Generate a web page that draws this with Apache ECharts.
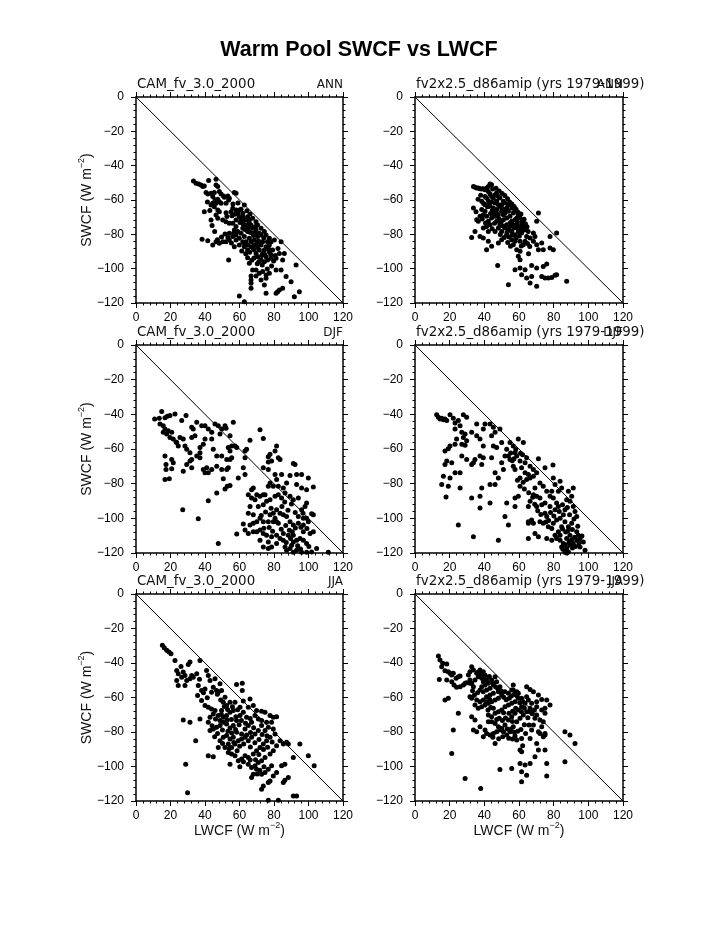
<!DOCTYPE html>
<html><head><meta charset="utf-8">
<script src="https://cdn.jsdelivr.net/npm/echarts@6/dist/echarts.min.js"></script>
<style>html,body{margin:0;padding:0;background:#fff}#c{width:723px;height:935px}</style>
</head><body><div id="c"></div>
<script>
// ---- tick labels ----
const xTicks = [0, 20, 40, 60, 80, 100, 120];
const yTicks = [-120, -100, -80, -60, -40, -20, 0];
// ---- reference line SWCF = -LWCF ----
const diagLWCF = [0, 120];
const diagSWCF = [0, -120];
// ---- panel titles ----
const caseNames = ['CAM_fv_3.0_2000', 'fv2x2.5_d86amip (yrs 1979-1999)'];
const seasons = ['ANN', 'DJF', 'JJA'];
// ---- data: [LWCF, SWCF] pairs, W m-2 ----
const camANN = [[33.3,-48.9],[34.8,-50.3],[36.3,-50.7],[37.7,-51.2],[38.7,-52.2],[39.6,-51.8],[42.1,-48.7],[46.4,-47.9],[46.4,-51.2],[47.4,-52.2],[45.4,-55.7],[43.5,-56.1],[41.6,-56.5],[40.6,-55.7],[48.3,-55.1],[49.3,-56.5],[51.2,-58.4],[53.2,-57.6],[54.1,-59],[57,-55.7],[58,-56.1],[44.5,-58],[47.4,-59.6],[48.3,-61],[46.4,-61.9],[44.5,-61.9],[45.4,-63.9],[43.5,-62.9],[49.3,-61.9],[52.2,-61.9],[53.7,-60],[39.6,-66.8],[47.4,-65.8],[48.3,-66.8],[46.4,-68.7],[47.4,-70.7],[43.5,-71.6],[50.3,-71.6],[52.2,-67.4],[55.1,-66.8],[56.1,-64.8],[58,-65.8],[59,-67.7],[60.9,-65.4],[62.8,-62.9],[61.9,-67.7],[59.9,-69.7],[58,-71.6],[52.2,-72.6],[54.1,-73.6],[56.1,-73.6],[58,-75.5],[60.9,-71.6],[62.8,-71.6],[64.7,-69.7],[65.7,-71.6],[67.6,-70.7],[69.6,-72.6],[66.7,-74.5],[63.8,-74.5],[61.9,-76.5],[59,-78.4],[57,-77.5],[54.1,-79.4],[58,-80.4],[60.9,-79.4],[62.8,-81.3],[64.7,-78.4],[67.6,-76.5],[70.5,-74.5],[72.5,-76.5],[74.4,-78.4],[75.4,-80.4],[77.3,-82.3],[78.3,-84.3],[80.2,-83.3],[72.5,-80.4],[70.5,-81.3],[68.6,-83.3],[65.7,-82.3],[63.8,-84.3],[61.9,-84.3],[59.9,-82.3],[58,-83.3],[56.1,-81.3],[54.1,-83.3],[52.2,-84.3],[50.3,-84.3],[48.3,-85.2],[46.4,-84.3],[44.5,-86.2],[41.6,-83.7],[38.3,-82.9],[53.7,-94.9],[62.8,-87.2],[64.7,-89.1],[66.7,-87.2],[68.6,-89.1],[69.6,-91.1],[71.5,-89.1],[73.4,-91.1],[75.4,-93],[77.3,-90.1],[79.2,-89.1],[70.5,-93],[72.5,-94.9],[74.4,-95.9],[76.3,-94.9],[78.3,-94],[81.2,-94],[83.1,-91.1],[86,-91.1],[84.1,-84.3],[85,-94.9],[92.8,-97.8],[65.7,-96.9],[67.6,-100.8],[69.6,-100.8],[71.5,-102.7],[73.4,-101.7],[75.4,-103.7],[77.3,-102.7],[75.4,-105.6],[72.5,-106.6],[69.6,-104.3],[66.7,-104.3],[66.7,-106.6],[81.2,-100.8],[84.1,-100.8],[87,-104.6],[89.9,-107.6],[85,-111.4],[83.1,-112.4],[82.1,-113.4],[81.2,-114.3],[75.4,-114.3],[66.7,-111.4],[59.9,-115.9],[62.8,-119.2],[91.8,-116.3],[94.7,-113.4],[74.4,-109.5],[66.7,-108.5],[59.9,-65.8],[61.9,-69.7],[63.8,-71.6],[65.7,-73.6],[67.6,-79.4],[69.6,-77.5],[71.5,-79.4],[73.4,-84.3],[75.4,-87.2],[77.3,-86.2],[74.4,-89.1],[72.5,-86.2],[70.5,-87.2],[68.6,-86.2],[66.7,-84.3],[64.7,-86.2],[62.8,-85.2],[59.9,-86.2],[57,-87.2],
[55.6,-69.2],[57.4,-68.3],[60.3,-73.1],[62.1,-74.0],[63.2,-77.2],[65.2,-76.1],[66.3,-78.9],[68.1,-80.7],[69.3,-79.1],[71.0,-83.9],[70.1,-85.6],[67.9,-88.2],[65.9,-90.4],[63.6,-91.3],[61.3,-89.7],[72.9,-92.4],[74.7,-91.8],[76.8,-88.4],[78.1,-91.7],[79.8,-95.6],[80.7,-92.3],[73.2,-97.8],[71.2,-95.9],[68.4,-93.8],[56.7,-79.2],[55.3,-85.1],[53.3,-81.9],[51.6,-79.8],[49.6,-81.6],[47.2,-83.1],[45.6,-78.4],[44.1,-74.9],[42.8,-66.1],[41.4,-61.2],[45.8,-59.8],[50.7,-57.7],[52.7,-69.6],[56.2,-62.3],[59.1,-61.8],[64.3,-66.3],[66.1,-68.1],[69.3,-75.4],[74.1,-82.1],[76.2,-84.3],[82.3,-88.2],[64.7,-93.6],[67.1,-95.1],[70.3,-97.1],[78.6,-98.4],[76.1,-100.2]];
const fvANN = [[33.7,-52.1],[34.6,-52.6],[35.6,-53],[36.5,-53],[37.5,-53.4],[38.5,-53.6],[39.4,-53.4],[40.4,-54],[41.3,-53],[42.3,-52.1],[43.3,-50.7],[44.2,-51.1],[42.3,-55],[43.3,-56.5],[44.2,-57.9],[45.2,-58.9],[46.2,-56.9],[47.1,-55.9],[48.1,-57.9],[49,-58.9],[47.1,-60.8],[46.2,-61.8],[44.2,-61.2],[42.3,-60.4],[41.3,-58.9],[40.4,-57.9],[43.3,-63.7],[45.2,-64.7],[47.1,-65.6],[49,-63.7],[50,-62.7],[51,-60.8],[51.9,-61.8],[52.9,-64.7],[53.9,-66.6],[51.9,-67.6],[50,-66.6],[48.1,-68.6],[46.2,-69.5],[44.2,-70.5],[41.3,-69.5],[39.4,-68.6],[33.7,-64.7],[35.6,-71.5],[36.5,-72.4],[37.5,-69.5],[38.5,-65.6],[40.4,-66.6],[42.3,-72.4],[43.3,-74.4],[47.1,-72.4],[49,-74.4],[51,-71.5],[52.9,-70.5],[54.8,-69.5],[55.8,-72.4],[57.7,-71.5],[58.7,-74.4],[59.6,-68.6],[56.7,-67.6],[54.8,-75.4],[53.9,-77.3],[51.9,-76.3],[50,-78.3],[48.1,-76.3],[46.2,-78.3],[42.3,-78.3],[41.3,-75.4],[39.4,-76.3],[34.6,-78.3],[32.7,-81.8],[37.5,-81.2],[39.4,-82.2],[42.3,-84.1],[44.2,-87],[41.3,-89],[48.1,-85.1],[50,-83.1],[52.9,-80.2],[55.8,-78.3],[57.7,-80.2],[59.6,-78.3],[60.6,-76.3],[61.5,-79.2],[62.5,-74.4],[63.5,-77.3],[64.4,-81.2],[63.5,-84.1],[60.6,-84.1],[57.7,-84.1],[55.8,-83.1],[56.7,-86],[58.7,-89],[60.6,-89.9],[62.5,-86],[66.4,-82.2],[68.3,-84.1],[69.2,-81.2],[70.2,-72.4],[71.2,-67.6],[68.3,-79.2],[70.2,-86],[71.2,-89],[74,-89],[77.9,-88],[79.8,-89],[77.9,-81.2],[81.7,-79.2],[73.1,-85.1],[59.6,-92.8],[60.6,-94.8],[47.7,-98.1],[57.7,-100.6],[60.6,-99.6],[63.5,-100.6],[61.5,-103.5],[64.4,-105.5],[67.3,-104.5],[67.3,-98.1],[70.2,-99.6],[74,-98.7],[76,-97.3],[73.1,-104.5],[75,-105.5],[76.9,-105.5],[78.9,-105.1],[80.8,-103.9],[81.7,-103.5],[87.5,-107.4],[53.9,-109.3],[70.2,-110.3],[66.4,-108.4],[48.1,-62.7],[50,-64.7],[51.9,-65.6],[53.9,-62.7],[55.8,-64.7],[57.7,-66.6],[58.7,-70.5],[56.7,-74.4],[59.6,-76.3],[61.5,-74.4],[54.8,-73.4],[52.9,-74.4],[51,-68.6],[45.2,-66.6],[40.4,-62.7],[38.5,-60.8],
[44.8,-53.6],[46.7,-53.1],[48.6,-54.8],[50.3,-56.2],[51.8,-57.4],[53.4,-59.3],[54.6,-61.2],[55.9,-62.3],[57.2,-63.8],[58.3,-65.4],[59.4,-67.1],[60.5,-70.2],[61.8,-72.3],[62.9,-71.2],[63.7,-73.8],[64.6,-75.6],[65.3,-78.4],[62.1,-77.8],[60.2,-80.9],[58.3,-82.1],[56.1,-80.4],[54.2,-81.6],[53.1,-78.9],[50.8,-75.1],[49.7,-72.6],[48.4,-70.9],[47.3,-67.8],[45.8,-68.4],[44.6,-66.2],[43.6,-67.9],[42.8,-62.6],[41.8,-63.9],[39.6,-62.1],[37.9,-57.3],[36.4,-59.6],[35.2,-66.8],[38.8,-71.1],[40.7,-73.4],[44.5,-76.8],[45.9,-73.6],[49.2,-80.1],[51.5,-81.9],[53.5,-84.7],[55.1,-86.9],[57.2,-76.3],[59.1,-72.8],[61.1,-68.2],[62.8,-76.2],[64.9,-85.3],[66.2,-87.1],[65.5,-91.3],[61.3,-86.8]];
const camDJF = [[10.8,-42.7],[13.5,-42.3],[14.9,-38.4],[16.8,-41.9],[18.2,-41.1],[19.7,-40.7],[22.6,-39.8],[26.5,-43.6],[29,-40.7],[13.9,-45.6],[15.8,-46.6],[16.8,-48.5],[15.8,-50.4],[17.8,-51.4],[18.7,-49.5],[20.7,-50.4],[19.7,-53.3],[21.6,-54.3],[23.2,-55.9],[24.5,-58.2],[23.6,-56.3],[25.5,-53.3],[27.4,-54.3],[28.4,-58.2],[29.4,-60.1],[31.3,-62.1],[32.3,-53.3],[34.2,-52.4],[33.2,-48.5],[32.3,-47.5],[35.2,-44.6],[38.1,-46.6],[40,-46.6],[41.9,-48.5],[43.9,-50.4],[45.8,-45.6],[47.7,-46.6],[48.7,-51.4],[49.7,-48.5],[51.6,-46.6],[56.4,-44.6],[52.2,-48.1],[54.5,-52.4],[55.5,-58.2],[57.4,-58.2],[58.4,-59.2],[53.5,-59.2],[54.5,-61.1],[55.5,-65],[54.5,-66],[52.6,-66],[49.7,-64],[46.8,-64],[44.8,-60.1],[43.9,-54.3],[40,-54.3],[39,-57.2],[37.1,-59.2],[37.1,-62.1],[37.1,-65],[35.2,-64],[32.3,-66],[31.3,-66.9],[29.4,-68.9],[32.3,-70.8],[27.4,-72.8],[21.6,-67.9],[20.7,-66],[16.8,-64],[17.4,-68.9],[17.4,-71.8],[20.7,-71.4],[16.8,-77.6],[19.3,-77.2],[27.1,-95.1],[36.1,-100.3],[39,-71.8],[41,-70.8],[40,-73.7],[41.9,-73.7],[43.9,-71.8],[46.8,-69.9],[49.7,-71.8],[52.6,-71.8],[53.5,-70.8],[50.6,-77.2],[52.9,-81.5],[54.5,-81.1],[51.6,-83.1],[46.8,-85.4],[41.9,-89.9],[47.7,-114.5],[59.3,-76.7],[62.2,-70.8],[63.2,-74.7],[63.2,-61.1],[64.1,-60.1],[63.2,-65],[66.1,-54.9],[71.9,-48.9],[73.8,-53.9],[77.7,-63.1],[76.7,-64.4],[76.7,-67.5],[78.6,-66.9],[81.5,-58.2],[80.6,-61.1],[82.5,-65],[83.5,-66],[73.8,-70.8],[76.7,-71.8],[80.6,-74.7],[81.5,-77.6],[84.4,-74.7],[89.3,-75.3],[93.1,-74.7],[96,-74.7],[99.9,-76.7],[102.8,-81.9],[98.9,-83.5],[96,-82.5],[93.1,-80.5],[92.2,-68.9],[91.2,-68.3],[87.3,-79.6],[85.4,-82.5],[82.5,-81.5],[79.6,-81.5],[77.7,-79.6],[76.7,-81.5],[74.8,-86.4],[73.8,-86.4],[71.9,-87.3],[70,-86.4],[67,-83.5],[68,-82.5],[65.1,-86.4],[67,-88.3],[69,-89.3],[66.1,-93.2],[65.1,-97],[68,-98],[70.9,-93.2],[73.8,-92.2],[75.7,-90.2],[77.7,-89.3],[80.6,-87.3],[82.5,-86.4],[84.4,-88.3],[86.4,-85.4],[89.3,-87.3],[91.2,-89.3],[94.1,-88.3],[98.9,-91.2],[98,-93.2],[96,-95.1],[94.1,-99],[97,-100],[98.9,-100],[101.8,-97.4],[102.8,-98],[99.9,-101.9],[97,-103.8],[94.1,-102.9],[91.2,-103.8],[89.3,-101.9],[87.3,-99],[85.4,-98],[83.5,-97],[81.5,-95.1],[79.6,-97],[77.7,-98],[80.6,-100],[81.5,-101.9],[82.5,-102.9],[79.6,-101.9],[76.7,-101.9],[73.8,-101.9],[71.9,-100],[70,-101.9],[68,-102.9],[66.1,-103.8],[62.2,-103.3],[63.2,-106.8],[65.1,-108.7],[68,-107.7],[70,-107.7],[71.9,-106.8],[58.4,-109.1],[73.8,-108.7],[75.7,-109.7],[78.6,-110.6],[81.5,-109.7],[83.5,-111.6],[85.4,-112.6],[86.4,-116.5],[87.3,-118.4],[89.3,-117.4],[90.2,-115.5],[91.2,-113.6],[93.1,-112.6],[95.1,-111.6],[97,-112.6],[98.9,-114.5],[100.9,-108.7],[102.8,-107.7],[97,-107.7],[91.2,-109.7],[88.3,-109.7],[85.4,-108.7],[76.7,-113.6],[73.8,-116.5],[76.7,-117.4],[78.6,-116.5],[81.5,-114.5],[96,-119.6],[98.9,-119.6],[101.8,-119.4],[104.7,-117.4],[111.5,-119.6],[93.1,-118.4],[91.2,-119.6],[71.9,-112.6],
[84.2,-106.3],[86.8,-104.1],[88.9,-106.9],[90.6,-107.8],[92.4,-105.6],[95.6,-105.2],[99.1,-105.9],[87.1,-113.9],[89.6,-111.7],[93.7,-115.8],[95.4,-117.7],[100.2,-116.3],[79.2,-107.4],[77.2,-105.3],[74.1,-105.7],[72.6,-98.3],[75.1,-96.3],[78.3,-94.2],[84.6,-93.2],[88.1,-95.4],[92.3,-96.7],[96.8,-97.1],[90.1,-91.7],[86.2,-90.6]];
const fvDJF = [[12.5,-40.3],[13.5,-41.7],[14.4,-42.7],[15.4,-42.3],[16.4,-43.1],[17.3,-42.7],[18.3,-43.6],[20.2,-40.3],[22.1,-42.3],[23.1,-45],[23.1,-48.5],[25,-43.6],[27.9,-40.3],[29.8,-41.7],[26,-46.6],[27,-50.4],[27.9,-53.3],[28.9,-51.4],[27,-57.2],[28.9,-57.8],[29.8,-55.3],[24,-54.3],[23.1,-57.2],[20.2,-58.2],[19.2,-59.8],[17.3,-61.1],[18.3,-66.9],[17.3,-68.9],[21.2,-67.9],[16.4,-75.7],[15.4,-80.5],[19.2,-81.5],[17.9,-87.7],[23.1,-73.7],[26,-73.7],[26,-82.5],[25,-103.8],[20.2,-76.7],[27,-64],[29.8,-66],[32.7,-68.9],[33.7,-67.9],[34.6,-66],[37.5,-64],[38.5,-68.9],[39.4,-65],[39.4,-58.2],[37.5,-54.3],[35.6,-52.4],[32.7,-50.4],[35.6,-45.6],[39.4,-48.5],[40.4,-45.6],[43.3,-45.6],[45.2,-47.5],[44.2,-52.4],[46.2,-50.4],[49,-48.5],[50,-56.3],[47.1,-59.2],[45.2,-58.2],[44.2,-65],[46.2,-73.7],[48.1,-76.7],[46.2,-80.5],[43.3,-80.5],[38.5,-82.5],[37.5,-87.3],[43.3,-91.2],[37.5,-94.1],[32.7,-88.3],[33.7,-110.6],[48.1,-112.6],[51,-71.8],[50,-67.9],[51.9,-64],[53.9,-64],[54.8,-66],[52.9,-60.1],[54.8,-56.3],[56.7,-58.2],[57.7,-62.1],[58.7,-64],[59.6,-54.3],[62.5,-56.3],[64.4,-65],[63.5,-67.9],[56.7,-69.9],[57.7,-71.8],[60.6,-66.9],[61.5,-70.8],[63.5,-73.7],[65.4,-74.7],[66.4,-69.9],[68.3,-71.8],[66.4,-76.7],[64.4,-77.6],[60.6,-76.7],[60.6,-81.5],[59.6,-87.3],[57.7,-88.3],[57.7,-93.2],[52.9,-91.2],[51.9,-99],[53.9,-103.8],[65.4,-93.2],[66.4,-90.2],[68.3,-86.4],[69.2,-82.5],[70.2,-87.3],[72.1,-88.3],[73.1,-92.2],[70.2,-93.2],[67.3,-100.9],[65.4,-102.9],[68.3,-102.9],[72.1,-101.9],[75,-97],[75,-91.2],[76,-84.4],[78.9,-84.4],[80.8,-80.5],[79.8,-76.7],[75,-70.8],[71.2,-65.6],[70.2,-73.7],[68.3,-75.7],[72.1,-79.6],[74,-81.5],[77.9,-87.3],[79.8,-88.3],[81.7,-91.2],[82.7,-84.4],[83.7,-78.6],[84.6,-82.5],[82.7,-93.2],[80.8,-95.1],[77.9,-93.2],[76,-99],[74,-102.9],[76.9,-104.8],[78.9,-105.8],[79.8,-102.9],[81.7,-100.9],[83.7,-100],[85.6,-98],[86.5,-95.1],[87.5,-89.3],[90.4,-87.3],[91.3,-93.2],[92.3,-96.1],[93.3,-99],[90.4,-102.9],[88.5,-104.8],[86.5,-101.9],[84.6,-104.8],[82.7,-107.7],[80.8,-109.7],[81.7,-111.6],[83.7,-112.6],[85.6,-114.5],[87.5,-117.4],[88.5,-119.4],[89.4,-115.5],[91.3,-114.5],[93.3,-112.6],[94.2,-109.7],[95.2,-111.6],[97.1,-113.6],[98.1,-118.4],[95.2,-116.5],[93.3,-107.7],[89.4,-109.7],[87.5,-111.6],[83.7,-109.7],[84.6,-116.5],[86.5,-119.5],[65.4,-111.6],[65.4,-101.9],[71.2,-110.6],[69.2,-108.7],[76,-111.6],[78.9,-112.6],[88.5,-84.4],[89.4,-90.2],[91.3,-82.5],[79.6,-69.3],
[85.1,-106.2],[86.9,-107.9],[88.2,-107.1],[90.8,-106.4],[92.1,-110.9],[90.3,-112.3],[88.9,-113.8],[86.7,-115.3],[85.3,-117.8],[87.6,-120],[90.8,-117.1],[92.6,-116.2],[94.6,-114.3],[96.3,-110.2],[93.9,-104.6],[91.7,-100.4],[89.2,-97.9],[87.9,-93.7],[85.1,-92.1],[83.2,-96.1],[80.1,-98.6],[78.2,-96.7],[77.1,-101.3],[75.5,-102.1],[72.6,-97.8],[70.8,-95.6],[69.1,-91.9],[67.9,-87.9],[65.6,-85.2],[63.1,-83.1],[62.4,-79.2],[59.1,-78.1],[56.1,-66.8],[55.2,-62.3],[58.1,-60.3],[60.9,-62.4],[62.1,-63.3],[57.1,-65.6]];
const camJJA = [[15.3,-29.7],[16.4,-31.1],[17.8,-32.6],[19.1,-33.6],[20.3,-34.6],[22.6,-38.5],[26.1,-42],[30.3,-40.8],[31.3,-39.4],[37.1,-38.5],[23.6,-44.3],[24.5,-46.2],[27.4,-45.2],[28.4,-47.2],[26.5,-48.2],[29.4,-50.1],[32.3,-47.2],[35.2,-46.2],[23.6,-50.1],[24.5,-53],[28.4,-53],[31.3,-49.1],[33.2,-48.2],[40.9,-44.3],[41.9,-47.2],[42.9,-50.1],[45.8,-49.1],[44.8,-54],[46.7,-55.9],[48.7,-52],[47.7,-56.9],[49.6,-55.9],[51.6,-59.8],[50.6,-62.7],[43.8,-56.9],[40,-55],[38,-55.9],[36.1,-53],[35.7,-58.8],[38,-61.8],[40,-64.7],[41.9,-65.6],[43.8,-66.6],[45.8,-67.6],[49.6,-67.6],[52.5,-64.7],[54.5,-62.7],[57.4,-62.7],[58.3,-52.4],[61.6,-51.7],[61.6,-55.9],[62.2,-62.1],[60.3,-65.6],[56.4,-67.6],[54.5,-68.6],[52.5,-70.5],[50.6,-71.5],[48.7,-73.4],[47.7,-70.5],[44.8,-69.5],[42.9,-71.5],[41.9,-74.4],[42.9,-79.2],[44.8,-78.3],[46.7,-77.3],[48.7,-76.3],[50.6,-74.4],[52.5,-75.4],[54.5,-77.7],[56.4,-76.3],[58.3,-73.4],[60.3,-70.5],[62.2,-68.6],[64.1,-71.5],[65.1,-65.6],[66.1,-60.8],[68,-64.7],[69.9,-67.6],[72.8,-68],[74.8,-68.6],[77.7,-70.5],[79.6,-71.5],[81.5,-71.1],[78.6,-74.4],[75.7,-74.4],[72.8,-73.4],[70.9,-72.4],[69,-70.5],[67,-74.4],[65.1,-76.3],[63.2,-78.3],[61.2,-81.2],[58.3,-80.2],[56.4,-83.1],[54.5,-84.1],[52.5,-82.1],[50.6,-83.1],[48.7,-85.1],[47.7,-89],[51.6,-89],[53.5,-87],[55.4,-89],[57.4,-87],[59.3,-85.1],[61.2,-84.1],[63.2,-83.1],[65.1,-85.1],[67,-83.1],[69,-81.2],[70.9,-79.2],[72.8,-76.3],[74.8,-79.2],[76.7,-77.3],[79.6,-78.3],[80.6,-81.2],[77.7,-83.1],[75.7,-85.1],[73.8,-87],[71.9,-89],[69.9,-90.9],[68,-92.8],[65.1,-94.8],[63.2,-93.8],[61.2,-95.7],[59.3,-96.7],[57.4,-93.8],[55.4,-92.8],[53.5,-91.9],[65.1,-98.7],[67,-100.6],[69,-99.6],[70.9,-97.7],[72.8,-96.7],[74.8,-94.8],[77.7,-92.8],[79.6,-90.9],[81.5,-88],[83.5,-85.1],[85.4,-87],[87.3,-86],[88.3,-87],[78.6,-99.6],[76.7,-101.6],[74.8,-103.5],[72.8,-104.5],[69.9,-101.6],[68,-104.5],[67,-106.4],[73.8,-111.3],[72.8,-113.2],[79.6,-105.5],[81.5,-103.5],[84.4,-99.6],[86.3,-98.7],[77.7,-108.4],[76.7,-109.3],[88.3,-106.4],[86.3,-108],[85.4,-109.3],[91.2,-117.1],[93.1,-117.1],[91.2,-94.8],[95,-87],[99.9,-93.8],[103.3,-99.5],[54.5,-98.7],[44.8,-94.4],[41.9,-93.8],[34.6,-85.1],[27.4,-73],[31.3,-74.4],[37.1,-72.4],[28.8,-98.7],[29.9,-115.2],[76.7,-119.6],[82.5,-119.6],
[47.2,-58.1],[49.1,-61.4],[51.2,-65.2],[53.1,-66.9],[55.9,-65.3],[58.9,-67.1],[59.8,-75.8],[57.7,-78.6],[55.5,-80.6],[53.3,-79.6],[50.1,-78.8],[47.3,-80.9],[45.6,-82.7],[44.1,-76.4],[46.1,-72.4],[49.5,-69.9],[52.8,-73.1],[55.3,-72.8],[57.9,-71.2],[61.1,-73.4],[63.5,-74.9],[66.2,-72.2],[68.2,-77.6],[66.4,-80.3],[64.1,-81.8],[62.4,-86.9],[60.1,-88.2],[58.6,-90.8],[56.7,-86.1],[54.1,-89.6],[50.2,-86.7],[66.3,-88.7],[68.9,-86.2],[71.3,-84.3],[73.1,-81.4],[75.9,-82.2],[78.9,-85.8],[76.3,-88.9],[73.9,-90.2],[71.2,-93.1],[69.3,-96.1],[66.2,-96.3],[62.3,-97.3],[60.2,-100.1],[71.8,-102.2],[74.2,-100.1],[70.3,-104.4],[39.1,-57.2],[41.3,-60.2],[36.8,-49.4]];
const fvJJA = [[13.5,-36],[14.4,-38.3],[16,-40.2],[18.3,-40.6],[15.4,-42.2],[17.3,-44.5],[19.2,-45.1],[20.2,-46],[21.2,-47],[22.1,-46],[23.7,-48.9],[25,-48],[26,-47.6],[14,-49.5],[18.3,-49.9],[21.2,-50.9],[22.5,-52.8],[24,-54.1],[26,-53.8],[27.9,-52.8],[28.9,-51.8],[29.8,-51.4],[31.7,-51.8],[30.8,-47],[32.7,-42.2],[31.7,-45.1],[33.7,-44.1],[35.6,-46],[36.5,-48],[34.6,-49.9],[32.7,-51.8],[33.7,-53.8],[37.5,-44.1],[39.4,-45.1],[40.4,-47],[38.5,-48.9],[39.4,-50.9],[41.3,-49.9],[42.3,-51.8],[40.4,-52.8],[38.5,-53.8],[37.5,-55.7],[39.4,-56.7],[41.3,-55.7],[43.3,-54.7],[45.2,-52.8],[44.2,-49.9],[46.2,-48],[47.1,-50.9],[49,-53.8],[48.1,-56.7],[45.2,-57.6],[43.3,-58.6],[41.3,-59.5],[39.4,-61.5],[37.5,-62.4],[35.6,-61.5],[32.7,-60.5],[31.7,-59.5],[17.3,-61.5],[19.2,-60.5],[34.6,-64.4],[36.5,-66.3],[38.5,-65.3],[40.4,-64.4],[42.3,-63.4],[44.2,-62.4],[46.2,-61.5],[48.1,-60.5],[50,-58.6],[51.9,-56.7],[53.9,-57.6],[55.8,-55.7],[56.7,-52.8],[58.7,-56.7],[59.6,-60.5],[57.7,-62.4],[55.8,-63.4],[53.9,-64.4],[51.9,-65.3],[50,-67.3],[48.1,-68.2],[46.2,-69.2],[44.2,-71.1],[42.3,-70.2],[44.2,-74],[46.2,-75],[48.1,-76.9],[50,-77.9],[51.9,-76],[53.9,-73.1],[55.8,-71.1],[57.7,-69.2],[59.6,-67.3],[61.5,-65.3],[63.5,-63.4],[61.5,-60.5],[64.4,-59.5],[65.4,-61.5],[67.3,-63.4],[66.4,-66.3],[64.4,-68.2],[62.5,-70.2],[60.6,-72.1],[58.7,-74],[56.7,-76.9],[54.8,-79.8],[52.9,-81.8],[51,-79.8],[49,-78.9],[47.1,-79.8],[45.2,-80.8],[43.3,-81.8],[41.3,-80.8],[40.4,-78.9],[39.4,-82.7],[35.6,-79.8],[33.7,-78.9],[37.5,-76.9],[34.6,-73.1],[32.7,-71.1],[25,-69.2],[22.1,-78.9],[21.2,-92.4],[46.2,-86.6],[42.3,-74],[57.7,-82.3],[58.7,-84.7],[61.5,-83.7],[60.6,-90.5],[61.5,-91.4],[66.4,-83.7],[67.3,-78.9],[68.3,-76],[69.2,-72.1],[70.2,-70.2],[72.1,-73.1],[73.1,-67.3],[75,-66.3],[77.9,-64.4],[76,-61.5],[73.1,-61.1],[70.2,-62.4],[68.3,-56.7],[66.4,-55.3],[64.4,-53.8],[71.2,-58.6],[59.6,-57.6],[56.7,-55.7],[66.4,-68.2],[70.2,-65.3],[75,-69.2],[74,-74],[73.1,-76.9],[71.2,-79.8],[72.1,-80.8],[75,-81.8],[74,-82.7],[70.2,-86.6],[71.2,-90.5],[69.2,-94.3],[66.4,-98.2],[63.5,-99.2],[60.6,-98.2],[61.5,-103],[55.8,-101.1],[49,-101.7],[64.4,-105],[61.5,-108.8],[76,-98.2],[75,-90.5],[75,-80.8],[86.5,-79.8],[89.4,-81.8],[92.3,-86.6],[86.5,-97.2],[76,-105.5],[28.9,-106.9],[37.9,-112.7],[31.7,-49.9],
[36.3,-45.3],[38.1,-46.7],[40.1,-49.2],[42.9,-47.8],[44.8,-51.3],[46.6,-53.9],[47.9,-55.1],[49.8,-56.2],[51.2,-59.9],[52.6,-61.3],[54.4,-60.4],[55.6,-59.1],[57.2,-58.3],[58.9,-59.2],[60.4,-63.1],[62.1,-62.2],[63.1,-66.1],[61.4,-68.2],[58.1,-66.2],[56.3,-67.9],[54.2,-69.1],[52.2,-71.9],[50.4,-73.4],[48.6,-72.1],[47.1,-72.8],[45.2,-66.3],[43.7,-65.8],[42.1,-67.2],[41.2,-62.4],[43.1,-61.1],[36.1,-57.3],[34.2,-58.7],[33.2,-56.1],[53.2,-78.2],[55.4,-78.3],[57.3,-80.1],[59.2,-79.6],[61.1,-78.6],[63.1,-75.8],[65.1,-71.8],[67.6,-69.4],[68.9,-67.2],[65.8,-75.9],[63.8,-80.9],[56.3,-84.1],[54.1,-83.6],[50.6,-82.7],[48.3,-83.9],[44.9,-83.1],[62.1,-87.9],[56.2,-73.9],[51.1,-68.9]];

const panelData = [camANN, fvANN, camDJF, fvDJF, camJJA, fvJJA];

// ---- layout (pixels) ----
const colLeft = [136, 415], colWidth = [207, 208];
const rowTop = [97, 345, 594], rowHeight = [206, 208, 207];

const chart = echarts.init(document.getElementById('c'), null, {renderer: 'canvas'});
const fmt = v => (v < 0 ? '\u2212' + Math.abs(v) : String(v));
const lab = {fontFamily: '"Liberation Sans", Arial, sans-serif', fontSize: 12, color: '#000'};

const grids = [], xAxes = [], yAxes = [], series = [], graphics = [];
graphics.push({type: 'text', x: 359, y: 50, style: {text: 'Warm Pool SWCF vs LWCF', fontFamily: '"Liberation Sans", Arial, sans-serif', fontWeight: 'bold', fontSize: 21.5, fill: '#000', align: 'center', verticalAlign: 'middle'}});

for (let r = 0; r < 3; r++) {
  for (let c = 0; c < 2; c++) {
    const i = r * 2 + c;
    grids.push({left: colLeft[c], top: rowTop[r], width: colWidth[c], height: rowHeight[r], containLabel: false, outerBoundsMode: 'none', show: false});
    const common = {
      type: 'value', gridIndex: i,
      splitLine: {show: false},
      axisLine: {show: true, onZero: false, lineStyle: {color: '#000', width: 1.5}},
      axisTick: {show: true, inside: false, length: 5, lineStyle: {color: '#000', width: 1}},
      minorTick: {show: true, splitNumber: 5, length: 2.5, lineStyle: {color: '#000', width: 1}},
    };
    const xc = Object.assign({}, common, {min: xTicks[0], max: xTicks[xTicks.length - 1], interval: xTicks[1] - xTicks[0]});
    const yc = Object.assign({}, common, {min: yTicks[0], max: yTicks[yTicks.length - 1], interval: yTicks[1] - yTicks[0]});
    xAxes.push(Object.assign({}, xc, {position: 'bottom', axisLabel: Object.assign({show: true, margin: 9, formatter: fmt, showMinLabel: true, showMaxLabel: true}, lab)}));
    xAxes.push(Object.assign({}, xc, {position: 'top', axisLabel: {show: false}}));
    yAxes.push(Object.assign({}, yc, {position: 'left', axisLabel: Object.assign({show: true, margin: 12, formatter: fmt, showMinLabel: true, showMaxLabel: true}, lab)}));
    yAxes.push(Object.assign({}, yc, {position: 'right', axisLabel: {show: false}}));

    series.push({type: 'line', xAxisIndex: 2 * i, yAxisIndex: 2 * i, data: diagLWCF.map((v, k) => [v, diagSWCF[k]]), symbol: 'none', lineStyle: {color: '#000', width: 1}, silent: true, z: 1});
    series.push({type: 'scatter', xAxisIndex: 2 * i, yAxisIndex: 2 * i, data: panelData[i], symbol: 'circle', symbolSize: 5, itemStyle: {color: '#000', opacity: 1}, clip: false, z: 2});

    const ty = rowTop[r] - 12.3;
    graphics.push({type: 'text', x: colLeft[c] + 1, y: ty, style: {text: caseNames[c], fontFamily: '"DejaVu Sans", sans-serif', fontSize: 13.4, fill: '#111', align: 'left', verticalAlign: 'middle'}});
    graphics.push({type: 'text', x: colLeft[c] + colWidth[c], y: ty, style: {text: seasons[r], fontFamily: '"DejaVu Sans", sans-serif', fontSize: 12, fill: '#111', align: 'right', verticalAlign: 'middle'}});

    const rich = {a: {fontFamily: '"Liberation Sans", Arial, sans-serif', fontSize: 14, lineHeight: 20, fill: '#111'}, s: {fontFamily: '"Liberation Sans", Arial, sans-serif', fontSize: 9, lineHeight: 10, verticalAlign: 'top', fill: '#111'}};
    if (c === 0) {
      graphics.push({type: 'text', x: 87, y: rowTop[r] + rowHeight[r] / 2, rotation: Math.PI / 2,
        style: {text: '{a|SWCF (W m}{s|\u22122}{a|)}', align: 'center', verticalAlign: 'middle', fill: '#111', rich: rich}});
    }
    if (r === 2) {
      graphics.push({type: 'text', x: colLeft[c] + colWidth[c] / 2, y: 831,
        style: {text: '{a|LWCF (W m}{s|\u22122}{a|)}', align: 'center', verticalAlign: 'middle', fill: '#111', rich: rich}});
    }
  }
}

chart.setOption({animation: false, backgroundColor: '#fff', grid: grids, xAxis: xAxes, yAxis: yAxes, series: series, graphic: graphics});
</script></body></html>
